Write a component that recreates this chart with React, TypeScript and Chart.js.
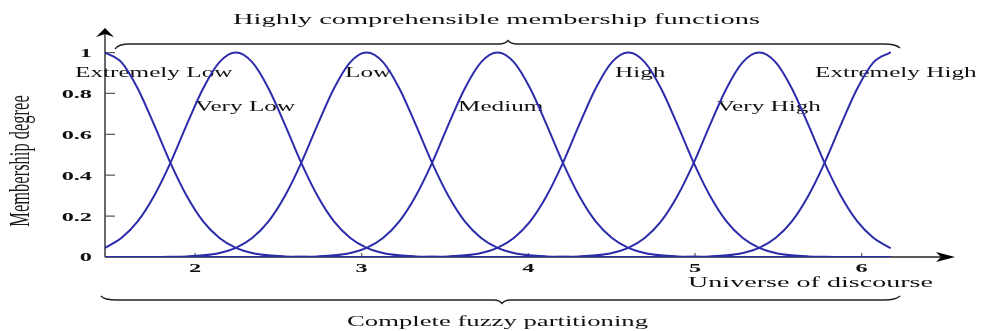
import React, { useEffect, useRef } from "react";
import { Chart, registerables } from "chart.js";

Chart.register(...registerables);

// Linguistic terms and the centre of each membership function on the universe of discourse
const TERMS = ["Extremely Low", "Very Low", "Low", "Medium", "High", "Very High", "Extremely High"];
const CENTERS = [1.46, 2.245, 3.03, 3.815, 4.6, 5.385, 6.17];

// Membership degree at increasing distance from a centre, one entry per OFFSET_STEP
const OFFSET_STEP = 0.098125;
const PROFILE = [1, 0.953, 0.824, 0.647, 0.46, 0.298, 0.174, 0.093, 0.045, 0.02, 0.008, 0.003, 0.001, 0];

const X_TICKS = [2, 3, 4, 5, 6];
const Y_TICKS = [0, 0.2, 0.4, 0.6, 0.8, 1];
const Y_TICK_LABELS = ["0", "0.2", "0.4", "0.6", "0.8", "1"];

const X_MIN = 1.46;
const X_AXIS_END = 6.56;
const Y_AXIS_END = 1.12;

// Where each term's caption sits: left edge (x units) and vertical centre (membership units)
const LABEL_SPOTS = [
  { x: 1.28, y: 0.897 },
  { x: 2.0, y: 0.73 },
  { x: 2.9, y: 0.897 },
  { x: 3.578, y: 0.73 },
  { x: 4.52, y: 0.897 },
  { x: 5.13, y: 0.73 },
  { x: 5.72, y: 0.897 },
];

const CURVE_COLOR = "#2c2caa";
const INK = "#111111";
const AXIS_COLOR = "#5a5a5a";
const SERIF = "'Liberation Serif', 'DejaVu Serif', serif";
const STRETCH = 1.8;

function curvePoints(center: number) {
  const lo = CENTERS[0];
  const hi = CENTERS[CENTERS.length - 1];
  const pts: { x: number; y: number }[] = [];
  for (let j = PROFILE.length - 1; j >= 1; j--) {
    const x = center - j * OFFSET_STEP;
    if (x >= lo - 1e-6) pts.push({ x: Math.max(x, lo), y: PROFILE[j] });
  }
  pts.push({ x: center, y: PROFILE[0] });
  for (let j = 1; j < PROFILE.length; j++) {
    const x = center + j * OFFSET_STEP;
    if (x <= hi + 1e-6) pts.push({ x: Math.min(x, hi), y: PROFILE[j] });
  }
  if (pts[0].x > lo + 1e-6) pts.unshift({ x: lo, y: 0 });
  if (pts[pts.length - 1].x < hi - 1e-6) pts.push({ x: hi, y: 0 });
  return pts;
}

function drawStretched(
  ctx: CanvasRenderingContext2D,
  text: string,
  x: number,
  y: number,
  font: string,
  sx: number,
  align: "left" | "center" | "right"
) {
  ctx.save();
  ctx.font = font;
  const w = ctx.measureText(text).width * sx;
  let left = x;
  if (align === "center") left = x - w / 2;
  if (align === "right") left = x - w;
  ctx.translate(left, y);
  ctx.scale(sx, 1);
  ctx.textAlign = "left";
  ctx.textBaseline = "middle";
  ctx.fillText(text, 0, 0);
  ctx.restore();
}

function drawFit(ctx: CanvasRenderingContext2D, text: string, left: number, y: number, width: number, font: string) {
  ctx.save();
  ctx.font = font;
  const w = ctx.measureText(text).width;
  drawStretched(ctx, text, left, y, font, width / w, "left");
  ctx.restore();
}

const decorations = {
  id: "fuzzyDecorations",
  beforeDraw(chart: any) {
    const { ctx, width, height } = chart;
    ctx.save();
    ctx.fillStyle = "#ffffff";
    ctx.fillRect(0, 0, width, height);
    ctx.restore();
  },
  beforeDatasetsDraw(chart: any) {
    const ctx: CanvasRenderingContext2D = chart.ctx;
    const xs = chart.scales.x;
    const ys = chart.scales.y;
    const x0 = xs.getPixelForValue(X_MIN);
    const y0 = ys.getPixelForValue(0);
    const xEnd = xs.getPixelForValue(X_AXIS_END);
    const yEnd = ys.getPixelForValue(Y_AXIS_END);

    ctx.save();
    // axes
    ctx.strokeStyle = AXIS_COLOR;
    ctx.lineWidth = 1.8;
    ctx.beginPath();
    ctx.moveTo(x0, y0);
    ctx.lineTo(x0, yEnd + 6);
    ctx.moveTo(x0, y0);
    ctx.lineTo(xEnd - 8, y0);
    ctx.stroke();

    // tick marks
    ctx.lineWidth = 1.2;
    ctx.beginPath();
    Y_TICKS.forEach((v) => {
      if (v === 0) return;
      const py = ys.getPixelForValue(v);
      ctx.moveTo(x0, py);
      ctx.lineTo(x0 + 10, py);
    });
    X_TICKS.forEach((v) => {
      const px = xs.getPixelForValue(v);
      ctx.moveTo(px, y0);
      ctx.lineTo(px, y0 - 4);
    });
    ctx.stroke();

    // arrow heads
    ctx.fillStyle = "#000000";
    ctx.beginPath();
    ctx.moveTo(x0, yEnd);
    ctx.lineTo(x0 + 9, yEnd + 9);
    ctx.lineTo(x0, yEnd + 6);
    ctx.lineTo(x0 - 9, yEnd + 9);
    ctx.closePath();
    ctx.fill();
    ctx.beginPath();
    ctx.moveTo(xEnd, y0);
    ctx.lineTo(xEnd - 19, y0 - 5);
    ctx.lineTo(xEnd - 14, y0);
    ctx.lineTo(xEnd - 19, y0 + 5);
    ctx.closePath();
    ctx.fill();

    // tick labels
    ctx.fillStyle = INK;
    const tickFont = `bold 13.5px ${SERIF}`;
    Y_TICKS.forEach((v, i) => {
      drawStretched(ctx, Y_TICK_LABELS[i], x0 - 13, ys.getPixelForValue(v) + 1, tickFont, STRETCH, "right");
    });
    X_TICKS.forEach((v) => {
      drawStretched(ctx, String(v), xs.getPixelForValue(v), y0 + 12, tickFont, STRETCH, "center");
    });

    // term captions
    TERMS.forEach((t, i) => {
      const s = LABEL_SPOTS[i];
      drawStretched(ctx, t, xs.getPixelForValue(s.x), ys.getPixelForValue(s.y), `14px ${SERIF}`, STRETCH, "left");
    });

    // axis titles and headings
    drawFit(ctx, "Highly comprehensible membership functions", 233, 20, 527, `15.5px ${SERIF}`);
    drawFit(ctx, "Universe of discourse", 688, 283, 245, `15.5px ${SERIF}`);
    drawFit(ctx, "Complete fuzzy partitioning", 347, 322, 301, `15px ${SERIF}`);

    ctx.save();
    ctx.fillStyle = "#1a1a1a";
    ctx.font = `16.5px ${SERIF}`;
    ctx.translate(21, 161);
    ctx.scale(STRETCH, 1);
    ctx.rotate(-Math.PI / 2);
    ctx.textAlign = "center";
    ctx.textBaseline = "middle";
    ctx.fillText("Membership degree", 0, 0);
    ctx.restore();

    // braces
    ctx.strokeStyle = "#222222";
    ctx.lineWidth = 1.3;
    ctx.beginPath();
    ctx.moveTo(115, 49);
    ctx.quadraticCurveTo(118, 44, 130, 44);
    ctx.lineTo(499, 44);
    ctx.quadraticCurveTo(505, 44, 508, 40.5);
    ctx.quadraticCurveTo(511, 44, 517, 44);
    ctx.lineTo(884, 44);
    ctx.quadraticCurveTo(896, 44, 900, 48);
    ctx.stroke();

    ctx.beginPath();
    ctx.moveTo(101, 296);
    ctx.quadraticCurveTo(104, 300, 117, 300);
    ctx.lineTo(494, 300);
    ctx.quadraticCurveTo(499, 300, 502, 303.5);
    ctx.quadraticCurveTo(505, 300, 510, 300);
    ctx.lineTo(884, 300);
    ctx.quadraticCurveTo(896, 300, 900, 296);
    ctx.stroke();
    ctx.restore();
  },
};

export default function App() {
  const canvasRef = useRef<HTMLCanvasElement | null>(null);

  useEffect(() => {
    document.body.style.margin = "0";
    const canvas = canvasRef.current;
    if (!canvas) return;
    const chart = new Chart(canvas, {
      type: "line",
      data: {
        datasets: CENTERS.map((c, i) => ({
          label: TERMS[i],
          data: curvePoints(c),
          borderColor: CURVE_COLOR,
          borderWidth: 2,
          pointRadius: 0,
          fill: false,
          cubicInterpolationMode: "monotone" as const,
        })),
      },
      options: {
        responsive: false,
        animation: false,
        devicePixelRatio: 1,
        layout: { padding: { left: 105, right: 26, top: 28, bottom: 74 } },
        scales: {
          x: { type: "linear", min: X_MIN, max: X_AXIS_END, display: false },
          y: { type: "linear", min: 0, max: Y_AXIS_END, display: false },
        },
        plugins: {
          legend: { display: false },
          tooltip: { enabled: false },
        },
        elements: { line: { borderCapStyle: "round" } },
      },
      plugins: [decorations],
    });
    return () => chart.destroy();
  }, []);

  return (
    <div style={{ position: "fixed", left: 0, top: 0, width: 981, height: 331, background: "#fff" }}>
      <canvas ref={canvasRef} width={981} height={331} style={{ display: "block" }} />
    </div>
  );
}
